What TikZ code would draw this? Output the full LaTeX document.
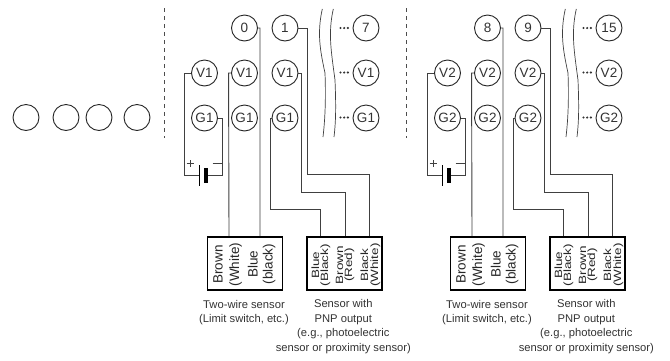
\documentclass[tikz,border=0pt]{standalone}
\usepackage{graphicx}
\usepackage{fontspec}
\setmainfont{Liberation Sans}
\usetikzlibrary{calc}
\tikzset{
  x=1pt,y=-1pt,
  term/.style={circle,draw=black!85,line width=0.9pt,minimum size=26pt,inner sep=0pt,font=\fontsize{13.5}{13.5}\selectfont,text=black!80},
  wire/.style={draw=black!75,line width=0.9pt},
  sensor/.style={draw=black,line width=1.6pt,minimum width=75pt,minimum height=53pt,inner sep=0pt},
  caption/.style={font=\fontsize{11.2}{14.6}\selectfont,text=black!80,align=center},
  sidelabel/.style={rotate=90,font=\fontsize{13.5}{13.5}\selectfont,text=black!85,align=center},
  sep/.style={draw=black!70,line width=0.9pt,dash pattern=on 4pt off 4pt},
  wavy/.style={draw=black!75,line width=0.7pt},
}
\newcommand{\squeezed}[1]{\scalebox{1}[0.78]{#1}}
\newcommand{\dotsrow}[1]{%
  \fill[black!80] (#1) circle (1.2pt) ++(3.7,0) circle (1.2pt) ++(3.7,0) circle (1.2pt);}
\newcommand{\bank}[7]{%
\begin{scope}[xshift=#1pt]
  \node[term] (#2a) at (244.5,28) {#5};
  \node[term] (#2b) at (285,28) {#6};
  \node[term] (#2c) at (366,28) {#7};
  \node[term] (#2v0) at (204.5,73) {#3};
  \node[term] (#2v1) at (244.5,73) {#3};
  \node[term] (#2v2) at (285,73) {#3};
  \node[term] (#2v3) at (366,73) {#3};
  \node[term] (#2g0) at (204.5,118) {#4};
  \node[term] (#2g1) at (244.5,118) {#4};
  \node[term] (#2g2) at (285,118) {#4};
  \node[term] (#2g3) at (366,118) {#4};
  \coordinate (#2bl) at (199,175);
  \coordinate (#2br) at (208,175);
  \draw[wire] (#2v0.west) -- ++(-7,0) |- (#2bl);
  \draw[wire] (#2g0.east) -- ++(4.5,0) |- (#2br);
  \draw[black,line width=0.9pt] (199,165) -- (199,186);
  \fill[black] (203.5,168) rectangle (208,182.5);
  \draw[black!75,line width=0.6pt] (186.5,163.5) -- (193.5,163.5) (190,160) -- (190,167) (212.5,163.5) -- (221.5,163.5);
  \node[sensor] (#2s1) at (245,263.5) {};
  \node[sensor] (#2s2) at (344.7,263.5) {};
  \draw[wire] (#2v1.west) -- ++(-2.5,0) -- (#2s1.north -| 229,0);
  \draw[wire] (#2a.east) -- ++(2,0) -- (#2s1.north -| 260,0);
  \draw[wire] (#2b.east) -- (307,28) |- (369.5,174) -- (#2s2.north -| 369.5,0);
  \draw[wire] (#2v2.east) -- (301,73) |- (345,192) -- (#2s2.north -| 345,0);
  \draw[wire] (#2g2.west) -- (270,118) |- (320.5,209) -- (#2s2.north -| 320.5,0);
  \draw[wavy] (322.3,9) .. controls (317,33) and (320,50) .. (325,73) .. controls (326,100) and (325,120) .. (323,137);
  \draw[wavy] (333.3,9) .. controls (328,33) and (331,50) .. (335,80) .. controls (336,105) and (336,120) .. (334,137);
  \dotsrow{340.5,28}\dotsrow{340.5,72.5}\dotsrow{340.5,117.5}
  \node[sidelabel,anchor=base] at (222.7,264.5) {Brown};
  \node[sidelabel,anchor=base] at (239,264.5) {(White)};
  \node[sidelabel,anchor=base] at (257.5,264) {Blue};
  \node[sidelabel,anchor=base] at (272.7,264) {(black)};
  \node[sidelabel,anchor=base] at (319,265) {\squeezed{Blue}};
  \node[sidelabel,anchor=base] at (328,265) {\squeezed{(Black)}};
  \node[sidelabel,anchor=base] at (343,265) {\squeezed{Brown}};
  \node[sidelabel,anchor=base] at (352,265) {\squeezed{(Red)}};
  \node[sidelabel,anchor=base] at (368,265) {\squeezed{Black}};
  \node[sidelabel,anchor=base] at (378,265) {\squeezed{(White)}};
  \node[caption] (#2c1) at (244,312.5) {Two-wire sensor\\(Limit switch, etc.)};
  \node[caption] (#2c2) at (343.3,326.5) {Sensor with\\PNP output\\(e.g., photoelectric\\sensor or proximity sensor)};
\end{scope}}
\begin{document}
\begin{tikzpicture}
\useasboundingbox (0,0) rectangle (670,360);
\fill[white] (0,0) rectangle (670,360);
\foreach \n/\x in {p/26,q/66,r/99,s/137}{\node[term] (\n) at (\x,117.5) {};}
\draw[sep] (164,8) -- (164,138);
\draw[sep] (406,8) -- (406,138);
\bank{0}{A}{V1}{G1}{0}{1}{7}
\bank{243}{B}{V2}{G2}{8}{9}{15}
\end{tikzpicture}
\end{document}
